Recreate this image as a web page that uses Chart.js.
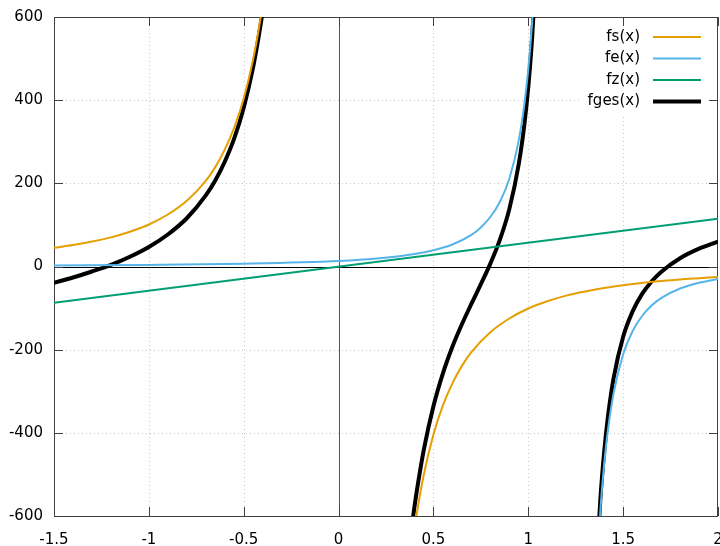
<!DOCTYPE html>
<html>
<head>
<meta charset="utf-8">
<script src="https://cdn.jsdelivr.net/npm/chart.js@4"></script>
<style>
  html, body { margin: 0; padding: 0; background: #fff; }
  #wrap { width: 720px; height: 546px; }
</style>
</head>
<body>
<div id="wrap"><canvas id="chart"></canvas></div>
<script>
// values (null = pole, line is broken there)
const fsX = [-1.5, -1.4, -1.3, -1.2, -1.1, -1.0, -0.9, -0.8, -0.7, -0.65, -0.6, -0.55, -0.5, -0.45, -0.42, -0.4, -0.38, -0.36,
             0,
             0.36, 0.38, 0.4, 0.42, 0.45, 0.5, 0.55, 0.6, 0.65, 0.7, 0.8, 0.9, 1.0, 1.1, 1.2, 1.3, 1.4, 1.5, 1.6, 1.7, 1.8, 1.9, 2.0];
const fsY = [45, 51.5, 60, 70, 83.5, 101, 125, 158, 206, 239, 281, 334, 404, 499, 573, 631, 699, 779,
             null,
             -779, -699, -631, -573, -499, -404, -334, -281, -239, -206, -158, -125, -101, -83.5, -70, -60, -51.5, -45, -39.5, -35, -31, -28, -25];

const feX = [-1.5, -1.0, -0.5, 0, 0.2, 0.4, 0.5, 0.6, 0.7, 0.75, 0.8, 0.85, 0.9, 0.95, 0.98, 1.0, 1.02, 1.04,
             1.2,
             1.36, 1.38, 1.4, 1.42, 1.45, 1.5, 1.55, 1.6, 1.65, 1.7, 1.8, 1.9, 2.0];
const feY = [2.6, 3.9, 6.6, 13, 19, 30, 39, 53, 76, 94, 119, 155, 211, 304, 393, 475, 586, 742,
             null,
             -742, -586, -475, -393, -304, -211, -155, -119, -94, -76, -53, -39, -30];

const fzX = [-1.5, 2.0];
const fzY = [-87, 115];

const fgesX = [-1.5, -1.4, -1.3, -1.2, -1.1, -1.0, -0.9, -0.8, -0.7, -0.65, -0.6, -0.55, -0.5, -0.45, -0.42, -0.4, -0.38, -0.36,
               0,
               0.36, 0.38, 0.4, 0.42, 0.45, 0.5, 0.55, 0.6, 0.65, 0.7, 0.75, 0.8, 0.85, 0.9, 0.95, 0.98, 1.0, 1.02, 1.04,
               1.2,
               1.36, 1.38, 1.4, 1.42, 1.45, 1.5, 1.55, 1.6, 1.65, 1.7, 1.8, 1.9, 2.0];
const fgesY = [-39, -26.5, -12, 4, 23.5, 47, 77, 116, 171, 207, 252, 308, 382, 480, 556, 615, 685, 766,
               null,
               -731, -649, -578, -518, -439, -336, -257, -193, -139, -90, -42.5, 7, 64, 138, 247, 344, 432, 548, 709,
               null,
               -718, -559, -446, -361, -268, -169, -108, -66, -36, -13, 20, 43, 60];

const xTicks = [-1.5, -1, -0.5, 0, 0.5, 1, 1.5, 2];
const yTicks = [-600, -400, -200, 0, 200, 400, 600];

const FONT = '"DejaVu Sans", sans-serif';

function pts(xs, ys) {
    return xs.map((x, i) => ({ x: x, y: ys[i] }));
}

// gnuplot look: dotted grid, zero axes, box border with inward ticks
const framePlugin = {
    id: 'frame',
    beforeDatasetsDraw(chart) {
        const { ctx, chartArea: a, scales: { x, y } } = chart;
        ctx.save();
        ctx.lineWidth = 1;
        ctx.strokeStyle = '#c8c8c8';
        ctx.setLineDash([1, 3]);
        xTicks.forEach(v => {
            if (v === xTicks[0] || v === xTicks[xTicks.length - 1] || v === 0) return;
            const px = Math.round(x.getPixelForValue(v)) + 0.5;
            ctx.beginPath(); ctx.moveTo(px, a.top); ctx.lineTo(px, a.bottom); ctx.stroke();
        });
        yTicks.forEach(v => {
            if (v === yTicks[0] || v === yTicks[yTicks.length - 1] || v === 0) return;
            const py = Math.round(y.getPixelForValue(v)) + 0.5;
            ctx.beginPath(); ctx.moveTo(a.left, py); ctx.lineTo(a.right, py); ctx.stroke();
        });
        ctx.setLineDash([]);

        // zero axes
        const x0 = Math.round(x.getPixelForValue(0)) + 0.5;
        const y0 = Math.round(y.getPixelForValue(0)) + 0.5;
        ctx.strokeStyle = '#555';
        ctx.beginPath(); ctx.moveTo(x0, a.top); ctx.lineTo(x0, a.bottom); ctx.stroke();
        ctx.strokeStyle = '#000';
        ctx.beginPath(); ctx.moveTo(a.left, y0); ctx.lineTo(a.right, y0); ctx.stroke();

        // border + ticks
        ctx.strokeStyle = '#404040';
        ctx.strokeRect(Math.round(a.left) + 0.5, Math.round(a.top) + 0.5,
                       Math.round(a.right - a.left) - 1, Math.round(a.bottom - a.top));
        const tl = 9;
        ctx.beginPath();
        xTicks.forEach(v => {
            const px = Math.round(x.getPixelForValue(v)) + 0.5;
            ctx.moveTo(px, a.bottom); ctx.lineTo(px, a.bottom - tl);
            ctx.moveTo(px, a.top); ctx.lineTo(px, a.top + tl);
        });
        yTicks.forEach(v => {
            const py = Math.round(y.getPixelForValue(v)) + 0.5;
            ctx.moveTo(a.left, py); ctx.lineTo(a.left + tl, py);
            ctx.moveTo(a.right, py); ctx.lineTo(a.right - tl, py);
        });
        ctx.stroke();
        ctx.restore();
    },
    afterDatasetsDraw(chart) {
        // key at top right: right-aligned text, sample line to its right
        const { ctx, chartArea: a } = chart;
        const sets = chart.data.datasets;
        const textRight = a.right - 78;
        const lineL = a.right - 65, lineR = a.right - 17;
        const top = a.top + 20, step = 21.5;
        ctx.save();
        ctx.fillStyle = '#fff';
        ctx.fillRect(textRight - 60, top - 11, lineR - textRight + 66, step * sets.length + 2);
        ctx.font = '15px ' + FONT;
        ctx.textAlign = 'right';
        ctx.textBaseline = 'middle';
        sets.forEach((ds, i) => {
            const yy = top + i * step;
            ctx.fillStyle = '#000';
            ctx.fillText(ds.label, textRight, yy);
            ctx.strokeStyle = ds.borderColor;
            ctx.lineWidth = ds.borderWidth;
            ctx.beginPath(); ctx.moveTo(lineL, yy); ctx.lineTo(lineR, yy); ctx.stroke();
        });
        ctx.restore();
    }
};

const lineStyle = { pointRadius: 0, fill: false, spanGaps: false, cubicInterpolationMode: 'monotone' };

new Chart(document.getElementById('chart'), {
    type: 'line',
    data: {
        datasets: [
            { label: 'fs(x)', data: pts(fsX, fsY), borderColor: '#E69F00', borderWidth: 2, ...lineStyle },
            { label: 'fe(x)', data: pts(feX, feY), borderColor: '#56B4E9', borderWidth: 2, ...lineStyle },
            { label: 'fz(x)', data: pts(fzX, fzY), borderColor: '#009E73', borderWidth: 2, ...lineStyle },
            { label: 'fges(x)', data: pts(fgesX, fgesY), borderColor: '#000000', borderWidth: 4, ...lineStyle }
        ]
    },
    options: {
        responsive: true,
        maintainAspectRatio: false,
        animation: false,
        layout: { padding: { top: 17, right: 2, bottom: 0, left: 0 } },
        scales: {
            x: {
                type: 'linear',
                min: -1.5, max: 2,
                afterBuildTicks: s => { s.ticks = xTicks.map(v => ({ value: v })); },
                afterFit: s => { s.height = 30; s.paddingLeft = 0; s.paddingRight = 0; },
                grid: { display: false, drawTicks: false },
                border: { display: false },
                ticks: { autoSkip: false, maxRotation: 0, padding: 15, color: '#000',
                         font: { family: FONT, size: 15 }, callback: v => String(v) }
            },
            y: {
                type: 'linear',
                min: -600, max: 600,
                afterBuildTicks: s => { s.ticks = yTicks.map(v => ({ value: v })); },
                afterFit: s => { s.width = 54; s.paddingTop = 0; s.paddingBottom = 0; },
                grid: { display: false, drawTicks: false },
                border: { display: false },
                ticks: { padding: 11, color: '#000', font: { family: FONT, size: 15 }, callback: v => String(v) }
            }
        },
        plugins: {
            legend: { display: false },
            tooltip: { enabled: false }
        }
    },
    plugins: [framePlugin]
});
</script>
</body>
</html>
